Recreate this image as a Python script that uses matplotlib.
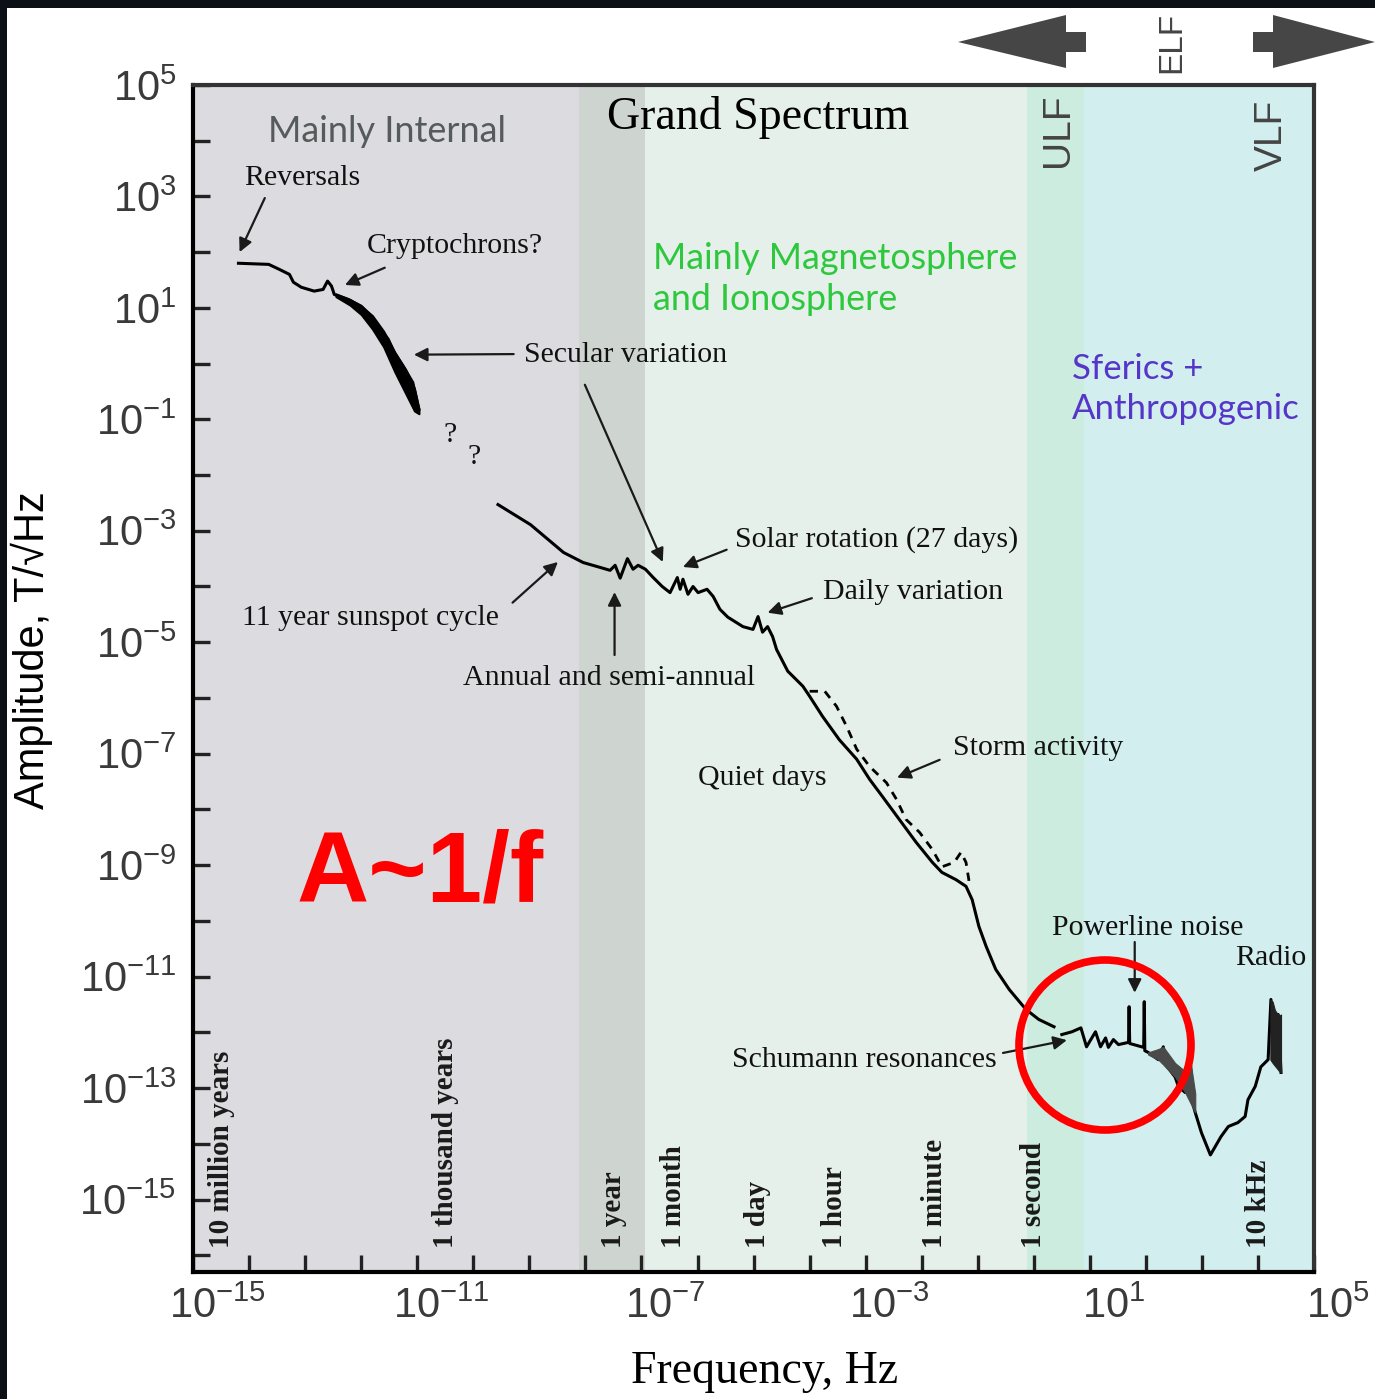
import numpy as np
import matplotlib.pyplot as plt
from matplotlib.patches import Polygon, Ellipse, Rectangle
import matplotlib.transforms as mtransforms

# values are log10(frequency / Hz) and log10(amplitude / T/sqrt(Hz))
int_logf = [-14.19, -13.65, -13.46, -13.28, -13.21, -13.07, -12.84, -12.68, -12.60, -12.53,
            -12.48, -12.23, -12.00, -11.82, -11.70, -11.52, -11.41, -11.25, -11.08, -10.97]
int_logA = [1.80, 1.78, 1.69, 1.60, 1.46, 1.37, 1.30, 1.33, 1.48, 1.39,
            1.24, 1.15, 1.03, 0.85, 0.67, 0.44, 0.20, -0.05, -0.34, -0.82]

# scatter band of the secular variation
sv_logf = [-12.45, -12.20, -12.00, -11.80, -11.60, -11.40, -11.20, -11.05, -10.97]
sv_top = [1.25, 1.15, 1.03, 0.86, 0.58, 0.20, -0.12, -0.45, -0.82]
sv_bot = [1.20, 1.05, 0.88, 0.62, 0.30, -0.15, -0.55, -0.85, -0.90]

ext_logf = [-9.56, -8.98, -8.39, -8.04, -7.73, -7.56, -7.47, -7.38, -7.25, -7.15,
            -7.06, -6.93, -6.79, -6.63, -6.49, -6.36, -6.31, -6.26, -6.17, -6.08,
            -5.99, -5.83, -5.72, -5.60, -5.46, -5.19, -5.01, -4.92, -4.84, -4.75,
            -4.66, -4.59, -4.39, -4.12, -4.00, -3.77, -3.47, -3.16, -2.93, -2.70,
            -2.40, -2.10, -1.81, -1.64, -1.39, -1.21, -1.10, -0.98, -0.85, -0.68,
            -0.44, -0.14, 0.09, 0.36]
ext_logA = [-2.53, -2.89, -3.39, -3.57, -3.66, -3.71, -3.62, -3.85, -3.50, -3.69,
            -3.62, -3.69, -3.84, -4.00, -4.11, -3.84, -4.05, -3.87, -4.14, -4.00,
            -4.11, -4.05, -4.18, -4.41, -4.55, -4.72, -4.77, -4.54, -4.82, -4.72,
            -4.90, -5.13, -5.52, -5.79, -5.97, -6.33, -6.75, -7.10, -7.46, -7.77,
            -8.18, -8.59, -8.95, -9.13, -9.26, -9.38, -9.62, -10.10, -10.46, -10.87,
            -11.23, -11.59, -11.77, -11.90]

storm_logf = [-4.00, -3.73, -3.52, -3.34, -3.16, -2.93, -2.63, -2.45, -2.28, -2.04,
              -1.81, -1.64, -1.42, -1.30, -1.21, -1.16, -1.16]
storm_logA = [-5.88, -5.88, -6.15, -6.51, -6.92, -7.23, -7.52, -7.82, -8.18, -8.41,
              -8.72, -9.03, -8.95, -8.77, -8.95, -9.26, -9.38]

hf_logf = [0.50, 0.68, 0.84, 0.94, 1.10, 1.19, 1.28, 1.33, 1.42, 1.51,
           1.69, 1.70, 1.71, 1.96, 1.97, 1.98, 2.04, 2.22, 2.31, 2.35,
           2.52, 2.58, 2.70, 2.79, 2.83, 2.88, 2.99, 3.15, 3.34, 3.47,
           3.64, 3.77, 3.82, 3.95, 4.05, 4.18, 4.23, 4.28, 4.36, 4.41]
hf_logA = [-12.04, -11.99, -11.92, -12.26, -11.99, -12.26, -12.10, -12.27, -12.13, -12.22,
           -12.18, -11.54, -12.20, -12.27, -11.45, -12.33, -12.36, -12.49, -12.26, -12.58,
           -12.80, -12.97, -13.08, -12.49, -13.26, -13.44, -13.80, -14.20, -13.87, -13.69,
           -13.62, -13.51, -13.21, -12.97, -12.62, -12.49, -11.41, -12.49, -11.68, -12.72]

# shaded sferics / radio spikes
sf_logf = [2.04, 2.22, 2.31, 2.52, 2.70, 2.79, 2.88]
sf_top = [-12.36, -12.30, -12.26, -12.55, -12.70, -12.49, -13.10]
sf_bot = [-12.40, -12.49, -12.58, -12.80, -13.08, -13.26, -13.44]
rad_logf = [4.22, 4.26, 4.30, 4.34, 4.38, 4.41]
rad_top = [-11.41, -11.45, -11.60, -11.66, -11.70, -11.68]
rad_bot = [-12.49, -12.55, -12.60, -12.65, -12.70, -12.72]

# coloured frequency bands (log10 Hz)
band_edges = [-15, -8.12, -6.93, -0.12, 0.89, 5]
band_colors = ['#dcdce0', '#ced4d0', '#e6f0ea', '#ccecdf', '#d2eeee']

period_labels = ['10 million years', '1 thousand years', '1 year', '1 month', '1 day',
                 '1 hour', '1 minute', '1 second', '10 kHz']
period_freqs = [1 / (1e7 * 3.156e7), 1 / (1e3 * 3.156e7), 1 / 3.156e7, 1 / 2.63e6,
                1 / 86400, 1 / 3600, 1 / 60, 1.0, 1e4]

xtick_exp = [-15, -11, -7, -3, 1, 5]
ytick_exp = list(range(-15, 6, 2))

plt.rcParams['font.family'] = ['Liberation Sans', 'DejaVu Sans']
SERIF = ['Liberation Serif', 'DejaVu Serif']
HUMAN = ['Lato', 'DejaVu Sans']


def P(lf, la):
    return 10.0 ** lf, 10.0 ** la


def lg(v):
    return 10.0 ** np.array(v)


fig = plt.figure(figsize=(13.75, 13.99), dpi=100)
fig.patch.set_facecolor('white')
ax = fig.add_axes([0.1404, 0.0908, 0.8153, 0.8485])
ax.set_xscale('log')
ax.set_yscale('log')
ax.set_xlim(1e-15, 1e5)
ax.set_ylim(10 ** -16.3, 1e5)

for i, c in enumerate(band_colors):
    ax.axvspan(10.0 ** band_edges[i], 10.0 ** band_edges[i + 1], color=c, lw=0, zorder=0)

# curves
ax.plot(lg(int_logf), lg(int_logA), color='black', lw=2.2, zorder=3)
ax.fill_between(lg(sv_logf), lg(sv_bot), lg(sv_top), color='black', lw=1.5, zorder=3)
ax.plot(lg(ext_logf), lg(ext_logA), color='black', lw=2.2, zorder=3)
ax.plot(lg(storm_logf), lg(storm_logA), color='black', lw=2.0, ls=(0, (3, 2.5)), zorder=3)
ax.plot(lg(hf_logf), lg(hf_logA), color='black', lw=2.2, zorder=3)
ax.fill_between(lg(sf_logf), lg(sf_bot), lg(sf_top), color='#4a4a4a', lw=0.8, zorder=3)
ax.fill_between(lg(rad_logf), lg(rad_bot), lg(rad_top), color='#222222', lw=0.8, zorder=3)

# ticks
ax.set_xticks([10.0 ** e for e in range(-15, 6)])
ax.set_xticklabels([])
ax.xaxis.set_minor_locator(plt.NullLocator())
ax.set_yticks([10.0 ** e for e in ytick_exp])
ax.set_yticklabels([r'$\mathdefault{10^{%d}}$' % e for e in ytick_exp])
ax.set_yticks([10.0 ** e for e in range(-16, 5, 2)], minor=True)
ax.yaxis.set_minor_formatter(plt.NullFormatter())
ax.tick_params(which='both', direction='in', length=12, width=2.4, color='#222222',
               top=False, right=False)
ax.tick_params(axis='y', labelsize=30, labelcolor='#3a3a3a', pad=12)
for s in ['left', 'bottom']:
    ax.spines[s].set_linewidth(3)
    ax.spines[s].set_color('black')
for s in ['top', 'right']:
    ax.spines[s].set_linewidth(3)
    ax.spines[s].set_color('#333333')

# x tick labels, shifted to the right like in the original artwork
shift = mtransforms.ScaledTranslation(24 / 100, -15 / 100, fig.dpi_scale_trans)
xtrans = mtransforms.blended_transform_factory(ax.transData, ax.transAxes) + shift
for e in xtick_exp:
    ax.text(10.0 ** e, 0, r'$\mathdefault{10^{%d}}$' % e, transform=xtrans, ha='center',
            va='top', fontsize=30, color='#3a3a3a', clip_on=False)

fig.text(765 / 1375, 1 - 1372 / 1399, 'Frequency, Hz', family=SERIF, fontsize=33,
         ha='center', va='center')
fig.text(32 / 1375, 1 - 650 / 1399, 'Amplitude, T/\u221aHz', fontsize=30, rotation=90,
         ha='center', va='center')

# period labels
for lab, f in zip(period_labels, period_freqs):
    ax.text(f, 10 ** -15.87, lab, rotation=90, ha='center', va='bottom', family=SERIF,
            fontsize=21, fontweight='bold', color='#1a1a1a', zorder=4)

# region titles
ax.text(*P(-11.54, 4.16), 'Mainly Internal', family=HUMAN, fontsize=26, color='#555a5a',
        ha='center', va='center')
ax.text(*P(-4.92, 4.41), 'Grand Spectrum', family=SERIF, fontsize=33, ha='center', va='center')
ax.text(*P(-6.80, 1.51), 'Mainly Magnetosphere\nand Ionosphere', family=HUMAN, fontsize=25.8,
        color='#2ec83e', ha='left', va='center', linespacing=1.3)
ax.text(*P(0.68, -0.45), 'Sferics +\nAnthropogenic', family=HUMAN, fontsize=25,
        color='#5536c8', ha='left', va='center', linespacing=1.3)
ax.text(*P(0.43, 4.19), 'ULF', fontsize=28, rotation=90, color='#444444', ha='center', va='center')
ax.text(*P(4.25, 4.10), 'VLF', fontsize=28, rotation=90, color='#444444', ha='center', va='center')
ax.text(*P(-10.94, -9.18), 'A~1/f', fontsize=72, fontweight='bold', color='#ff0000',
        ha='center', va='center', zorder=5)

# annotations: (text, text pos, ha, arrow tail, arrow head)
notes = [
    ('Reversals', (-13.06, 3.33), 'center', (-13.72, 2.97), (-14.17, 2.00)),
    ('Cryptochrons?', (-10.33, 2.11), 'center', (-11.58, 1.72), (-12.29, 1.41)),
    ('Secular variation', (-7.28, 0.16), 'center', (-9.28, 0.17), (-11.06, 0.16)),
    ('11 year sunspot cycle', (-11.83, -4.56), 'center', (-9.30, -4.29), (-8.49, -3.56)),
    ('Annual and semi-annual', (-7.58, -5.64), 'center', (-7.48, -5.23), (-7.48, -4.10)),
    ('Solar rotation (27 days)', (-5.33, -3.16), 'left', (-5.48, -3.34), (-6.26, -3.65)),
    ('Daily variation', (-3.76, -4.10), 'left', (-3.96, -4.21), (-4.75, -4.47)),
    ('Storm activity', (-1.45, -6.90), 'left', (-1.68, -7.11), (-2.44, -7.43)),
    ('Quiet days', (-4.84, -7.43), 'center', None, None),
    ('Powerline noise', (0.32, -10.13), 'left', (1.80, -10.38), (1.80, -11.29)),
    ('Radio', (4.87, -10.66), 'right', None, None),
    ('Schumann resonances', (-0.66, -12.49), 'right', (-0.55, -12.37), (0.59, -12.14)),
    ('?', (-10.42, -1.28), 'center', None, None),
    ('?', (-9.99, -1.68), 'center', None, None),
]
arrow_kw = dict(arrowstyle='-|>', color='#1a1a1a', lw=1.6, mutation_scale=20,
                shrinkA=0, shrinkB=0)
for txt, pos, ha, tail, head in notes:
    ax.text(*P(*pos), txt, family=SERIF, fontsize=21.5, color='#111111', ha=ha, va='center',
            zorder=4)
    if tail is not None:
        ax.annotate('', xy=P(*head), xytext=P(*tail), arrowprops=arrow_kw, zorder=4)
ax.annotate('', xy=P(-6.62, -3.56), xytext=P(-8.01, -0.38), arrowprops=arrow_kw, zorder=4)

# overlay in pixel units for the decorations around the frame
ov = fig.add_axes([0, 0, 1, 1], zorder=5)
ov.set_xlim(0, 1375)
ov.set_ylim(1399, 0)
ov.axis('off')
ov.patch.set_alpha(0)
ov.add_patch(Rectangle((0, 0), 1375, 8, color='#0b0f16', lw=0))
ov.add_patch(Rectangle((0, 0), 7, 1399, color='#0b0f16', lw=0))
ov.add_patch(Polygon([(958, 42), (1066, 15), (1066, 32), (1086, 32), (1086, 52),
                      (1066, 52), (1066, 68)], closed=True, color='#464646', lw=0))
ov.add_patch(Polygon([(1375, 42), (1273, 15), (1273, 32), (1253, 32), (1253, 52),
                      (1273, 52), (1273, 68)], closed=True, color='#464646', lw=0))
ov.text(1172, 42, 'ELF', fontsize=24, rotation=90, color='#444444', ha='center', va='center')
ov.add_patch(Ellipse((1105, 1045), 172, 170, fill=False, edgecolor='#ff0000', lw=5.5))

fig.savefig('out.png', dpi=100)
